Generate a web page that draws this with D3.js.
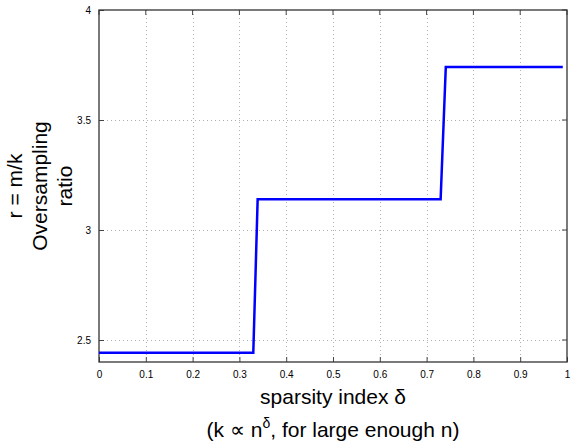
<!DOCTYPE html>
<html><head><meta charset="utf-8">
<script src="https://cdn.jsdelivr.net/npm/d3@7"></script>
<style>body{margin:0;background:#fff;} svg{display:block;font-family:"Liberation Sans",Arial,Helvetica,sans-serif;}</style>
</head><body>
<script>
const xTicks = [0,0.1,0.2,0.3,0.4,0.5,0.6,0.7,0.8,0.9,1];
const yTicks = [2.5,3,3.5,4];
const delta = [0, 0.3297, 0.339, 0.730, 0.741, 0.991];
const ratio = [2.442, 2.442, 3.140, 3.140, 3.741, 3.741];

const W=581,H=446;
const svg=d3.select("body").append("svg").attr("width",W).attr("height",H);
const x=d3.scaleLinear().domain([0,1]).range([99,567]);
const y=d3.scaleLinear().domain([2.4,4]).range([362,10]);

// grid
const g=svg.append("g");
g.selectAll(".vg").data(xTicks.slice(1,-1)).join("line")
 .attr("x1",d=>Math.round(x(d))+0.5).attr("x2",d=>Math.round(x(d))+0.5)
 .attr("y1",y(4)).attr("y2",y(2.4)).attr("stroke","#b0b0b0").attr("stroke-dasharray","1,3");
g.selectAll(".hg").data(yTicks.slice(0,-1)).join("line")
 .attr("y1",d=>Math.round(y(d))+0.5).attr("y2",d=>Math.round(y(d))+0.5)
 .attr("x1",x(0)).attr("x2",x(1)).attr("stroke","#b0b0b0").attr("stroke-dasharray","1,3");

// axes
const xa=d3.axisBottom(x).tickValues(xTicks).tickSize(-5).tickPadding(9).tickFormat(d=>d3.format("")(d));
const ya=d3.axisLeft(y).tickValues(yTicks).tickSize(-5).tickPadding(8).tickFormat(d=>d3.format("")(d));
const gx=svg.append("g").attr("transform",`translate(0,${y(2.4)})`).call(xa);
const gy=svg.append("g").attr("transform",`translate(${x(0)},0)`).call(ya);
[gx,gy].forEach(a=>{a.select(".domain").remove();a.selectAll("line").attr("stroke","#444");a.selectAll("text").attr("font-size",10).attr("fill","#000").attr("font-family","Liberation Sans,Arial,sans-serif");});
// top ticks / right ticks
svg.selectAll(".tt").data(xTicks).join("line").attr("x1",d=>x(d)).attr("x2",d=>x(d)).attr("y1",y(4)).attr("y2",y(4)+5).attr("stroke","#444");
svg.selectAll(".rt").data(yTicks).join("line").attr("y1",d=>y(d)).attr("y2",d=>y(d)).attr("x1",x(1)).attr("x2",x(1)-5).attr("stroke","#444");
// box
svg.append("rect").attr("x",x(0)).attr("y",y(4)).attr("width",x(1)-x(0)).attr("height",y(2.4)-y(4))
 .attr("fill","none").attr("stroke","#333").attr("stroke-width",1.3);

// line
const pts=delta.map((d,i)=>[d,ratio[i]]);
svg.append("path").datum(pts).attr("d",d3.line().x(d=>x(d[0])).y(d=>y(d[1])))
 .attr("fill","none").attr("stroke","#0000ff").attr("stroke-width",2.5).attr("stroke-linejoin","miter");

// labels
svg.append("text").attr("x",333).attr("y",404).attr("text-anchor","middle").attr("font-size",21).text("sparsity index δ");
const t2=svg.append("text").attr("x",333).attr("y",437).attr("text-anchor","middle").attr("font-size",21);
t2.append("tspan").text("(k ∝ n");
t2.append("tspan").attr("dy",-9).attr("font-size",14).text("δ");
t2.append("tspan").attr("dy",9).text(", for large enough n)");

const yl=svg.append("text").attr("transform",`translate(0,186) rotate(-90)`).attr("text-anchor","middle").attr("font-size",21);
["r = m/k","Oversampling","ratio"].forEach((s,i)=>yl.append("tspan").attr("x",0).attr("y",22+i*25).text(s));
</script>
</body></html>
